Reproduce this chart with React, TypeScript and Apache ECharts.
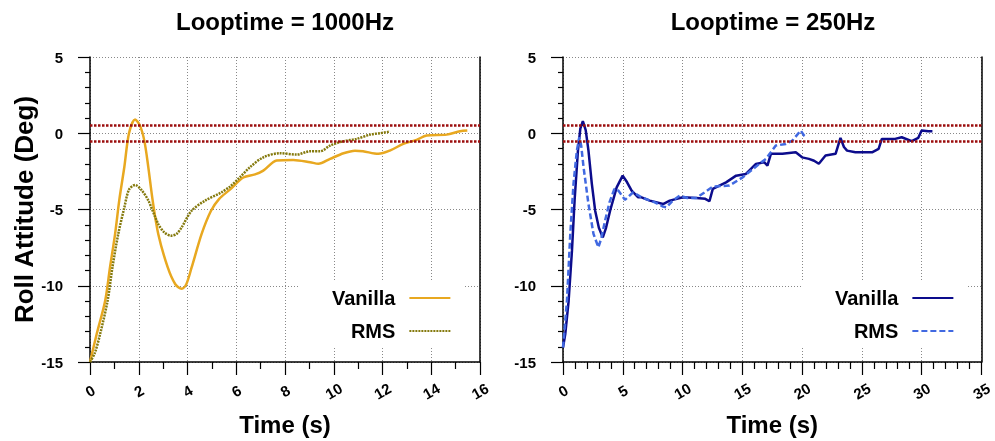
import React, { useEffect, useRef } from 'react';
import * as echarts from 'echarts';

const titles = ['Looptime = 1000Hz', 'Looptime = 250Hz'];
const yAxisName = 'Roll Attitude (Deg)';
const xAxisName = 'Time (s)';
const thresholds = [0.5, -0.5];
const xMax = [16, 35];
const xInterval = [2, 5];
const xMinorSplit = [2, 5];

// Loop 1000Hz
const vanilla1000: [number, number][] = [
  [0, -15], [0.27, -13.2], [0.62, -11.0], [0.82, -8.8], [1.03, -6.6], [1.2, -4.4], [1.41, -2.2],
  [1.6, 0], [1.85, 0.9], [2.05, 0.5], [2.23, -0.5], [2.39, -2.2], [2.57, -4.4], [2.8, -6.6],
  [3.19, -8.8], [3.5, -9.9], [3.76, -10.2], [3.95, -9.9], [4.17, -8.8], [4.58, -6.6], [4.96, -5.1],
  [5.3, -4.3], [5.74, -3.7], [6.29, -2.9], [6.77, -2.7], [7.11, -2.45], [7.66, -1.79], [8.34, -1.75],
  [9.03, -1.9], [9.37, -2.0], [9.85, -1.68], [10.4, -1.31], [10.87, -1.14], [11.2, -1.18],
  [11.83, -1.35], [12.3, -1.14], [12.85, -0.7], [13.4, -0.43], [13.81, -0.15], [14.63, -0.09],
  [15.18, 0.13], [15.48, 0.18],
];
const rms1000: [number, number][] = [
  [0, -15], [0.2, -14.4], [0.41, -13.2], [0.72, -11.0], [0.92, -8.8], [1.16, -6.6], [1.41, -4.86],
  [1.6, -3.7], [1.85, -3.39], [2.1, -3.7], [2.39, -4.4], [2.8, -5.95], [3.05, -6.5], [3.32, -6.72],
  [3.55, -6.6], [3.76, -6.17], [4.17, -5.08], [4.72, -4.42], [5.4, -3.87], [5.74, -3.5], [6.15, -2.89],
  [6.56, -2.23], [7.11, -1.58], [7.79, -1.31], [8.48, -1.4], [9.03, -1.18], [9.44, -1.18], [9.85, -0.81],
  [10.4, -0.52], [10.94, -0.37], [11.49, -0.09], [11.9, 0], [12.31, 0.11],
];

// Loop 250Hz
const vanilla250: [number, number][] = [
  [0, -14.05], [0.19, -13.17], [0.47, -11], [0.75, -7.7], [0.97, -4.4], [1.25, -1.14], [1.45, 0.3],
  [1.66, 0.79], [1.9, 0.2], [2.13, -1.14], [2.41, -3.3], [2.69, -5.08], [3.0, -6.2], [3.33, -6.83],
  [3.6, -6.2], [3.94, -5.08], [4.49, -3.55], [4.99, -2.78], [5.35, -3.2], [5.74, -3.76], [6.29, -4.2],
  [6.57, -4.2], [7.26, -4.42], [8.37, -4.64], [8.93, -4.42], [10.03, -4.2], [11.15, -4.24], [11.9, -4.3],
  [12.25, -4.46], [12.53, -3.65], [13.64, -3.22], [14.48, -2.78], [15.3, -2.67], [16.14, -2.01],
  [16.83, -1.9], [17.1, -2.12], [17.39, -1.35], [18.35, -1.35], [19.47, -1.25], [20.0, -1.58],
  [20.57, -1.68], [21.0, -1.8], [21.4, -2.0], [21.96, -1.46], [22.8, -1.35], [23.21, -0.3], [23.5, -0.9],
  [23.76, -1.14], [24.46, -1.25], [25.85, -1.25], [26.4, -1.03], [26.67, -0.37], [27.78, -0.37],
  [28.33, -0.26], [29.17, -0.52], [29.72, -0.3], [30.0, 0.18], [30.56, 0.13], [30.9, 0.13],
];
const rms250: [number, number][] = [
  [0, -14.05], [0.33, -11], [0.61, -6.6], [0.88, -3.3], [1.16, -1.14], [1.36, -0.26], [1.52, -0.8],
  [1.72, -2.23], [2.13, -4.64], [2.55, -6.6], [2.96, -7.48], [3.2, -6.9], [3.52, -5.73], [3.9, -4.5],
  [4.3, -3.65], [4.63, -3.76], [5.18, -4.37], [5.87, -3.87], [6.57, -4.2], [7.68, -4.53], [8.37, -4.81],
  [8.65, -4.86], [9.2, -4.4], [9.76, -4.09], [10.4, -4.25], [11.15, -4.24], [11.8, -3.9], [12.53, -3.5],
  [13.92, -3.43], [15.03, -2.89], [16.42, -2.01], [16.97, -1.68], [17.8, -0.81], [18.64, -0.7],
  [19.19, -0.48], [19.88, 0.18], [20.16, -0.15], [20.4, -0.3],
];

const FONT = '"Liberation Sans", Arial, sans-serif';

export default function App() {
  const ref = useRef<HTMLDivElement>(null);
  useEffect(() => {
    const chart = echarts.init(ref.current!, null, { renderer: 'svg' });
    const grids = [
      { left: 90, top: 57, width: 390, height: 305 },
      { left: 563, top: 57, width: 420, height: 305 },
    ];
    const splitLine = { show: true, lineStyle: { color: '#888', type: [1, 2], width: 1 } };
    const xAxes = [0, 1].map((i) => ({
      gridIndex: i, type: 'value', min: 0, max: xMax[i], interval: xInterval[i],
      axisLine: { onZero: false, lineStyle: { color: '#000', width: 1.5 } },
      axisTick: { show: true, length: 13, lineStyle: { color: '#000', width: 1.2 } },
      minorTick: { show: true, splitNumber: xMinorSplit[i], length: 7, lineStyle: { color: '#000', width: 1.2 } },
      splitLine,
      axisLabel: { rotate: 30, align: 'center', verticalAlign: 'middle', margin: 29, color: '#000', fontWeight: 'bold', fontSize: 15, fontFamily: FONT },
      name: xAxisName, nameLocation: 'middle', nameGap: 50,
      nameTextStyle: { color: '#000', fontWeight: 'bold', fontSize: 24, fontFamily: FONT },
    }));
    const yAxes: any[] = [0, 1].map((i) => ({
      gridIndex: i, type: 'value', min: -15, max: 5, interval: 5,
      axisLine: { show: true, lineStyle: { color: '#000', width: 1.5 } },
      axisTick: { show: true, length: 12, lineStyle: { color: '#000', width: 1.2 } },
      minorTick: { show: true, splitNumber: 5, length: 5, lineStyle: { color: '#000', width: 1.2 } },
      splitLine,
      axisLabel: { margin: 27, color: '#000', fontWeight: 'bold', fontSize: 15, fontFamily: FONT },
      name: i === 0 ? yAxisName : '', nameLocation: 'middle', nameGap: 46,
      nameTextStyle: { color: '#000', fontWeight: 'bold', fontSize: 26, fontFamily: FONT },
    }));
    [0, 1].forEach((i) => yAxes.push({
      gridIndex: i, type: 'value', min: -15, max: 5, interval: 5, position: 'right',
      axisLine: { show: true, lineStyle: { color: '#000', width: 1.5 } },
      axisTick: { show: false }, axisLabel: { show: false }, splitLine: { show: false },
    }));
    const markLine = {
      silent: true, symbol: 'none', label: { show: false },
      lineStyle: { color: '#9b0d0d', type: [2.5, 1.5], width: 2.5 },
      data: thresholds.map((v) => ({ yAxis: v })),
    };
    const legendBase = {
      orient: 'vertical', align: 'right', top: 280,
      itemWidth: 41, itemHeight: 14, itemGap: 13,
      backgroundColor: '#fff', selectedMode: false,
      itemStyle: { color: 'rgba(0,0,0,0)', borderColor: 'rgba(0,0,0,0)', borderWidth: 0, opacity: 0 },
      textStyle: { fontSize: 20, fontWeight: 'bold', color: '#000', lineHeight: 20, fontFamily: FONT, padding: [0, 9, 0, 0] },
      formatter: (n: string) => n.trim(),
    };
    chart.setOption({
      animation: false,
      title: [
        { text: titles[0], left: 285, top: 9, textAlign: 'center', padding: 0, textStyle: { fontSize: 24, fontWeight: 'bold', color: '#000', fontFamily: FONT } },
        { text: titles[1], left: 773, top: 9, textAlign: 'center', padding: 0, textStyle: { fontSize: 24, fontWeight: 'bold', color: '#000', fontFamily: FONT } },
      ],
      legend: [
        { ...legendBase, left: 298, padding: [8, 13, 7, 34], data: ['Vanilla', 'RMS'] },
        { ...legendBase, left: 802, padding: [8, 13, 7, 33], data: ['Vanilla ', 'RMS '] },
      ],
      grid: grids,
      xAxis: xAxes,
      yAxis: yAxes,
      series: [
        { name: 'Vanilla', type: 'line', xAxisIndex: 0, yAxisIndex: 0, data: vanilla1000, symbol: 'none', smooth: 0.3,
          lineStyle: { color: '#e8a820', width: 2.5 }, itemStyle: { color: '#e8a820' }, markLine },
        { name: 'RMS', type: 'line', xAxisIndex: 0, yAxisIndex: 0, data: rms1000, symbol: 'none', smooth: 0.3,
          lineStyle: { color: '#857a0e', width: 2.5, type: [2, 1] }, itemStyle: { color: '#857a0e' } },
        { name: 'Vanilla ', type: 'line', xAxisIndex: 1, yAxisIndex: 1, data: vanilla250, symbol: 'none',
          lineStyle: { color: '#0c0c8c', width: 2.5 }, itemStyle: { color: '#0c0c8c' }, markLine },
        { name: 'RMS ', type: 'line', xAxisIndex: 1, yAxisIndex: 1, data: rms250, symbol: 'none',
          lineStyle: { color: '#4169e1', width: 2.5, type: [6, 3] }, itemStyle: { color: '#4169e1' } },
      ],
    });
    return () => chart.dispose();
  }, []);
  return <div ref={ref} style={{ position: 'fixed', left: 0, top: 0, width: 995, height: 441 }} />;
}
